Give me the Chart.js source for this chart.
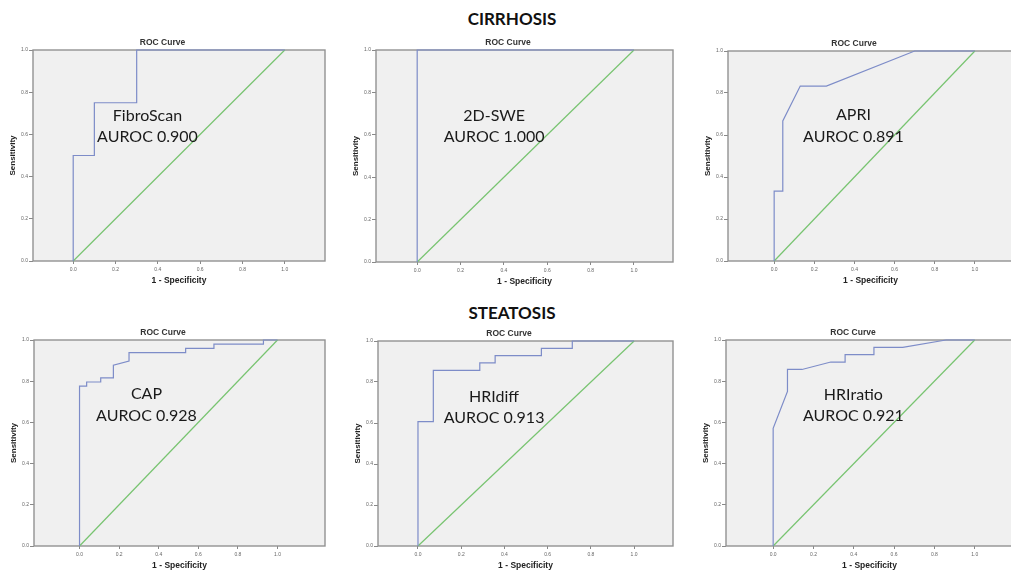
<!DOCTYPE html>
<html>
<head>
<meta charset="utf-8">
<script src="https://cdn.jsdelivr.net/npm/chart.js@4"></script>
<style>
  html, body { margin: 0; padding: 0; background: #fff; overflow: hidden; }
  body { position: relative; width: 1011px; height: 570px; }
  .head { position: absolute; left: 0; width: 1024px; text-align: center;
          font: bold 17px Lato, sans-serif; line-height: 17px; color: #111; }
  canvas { position: absolute; }
</style>
</head>
<body>
<div class="head" style="top:10px">CIRRHOSIS</div>
<div class="head" style="top:304px">STEATOSIS</div>

<script>
// tick values shared by both axes
const tickVals = [0, 0.2, 0.4, 0.6, 0.8, 1.0];

// reference (chance) line
const chanceX = [0, 1];
const chanceY = [0, 1];

// ROC curves: 1 - specificity / sensitivity
const fibroFpr = [0, 0, 0.1, 0.1, 0.3, 0.3, 1];
const fibroTpr = [0, 0.5, 0.5, 0.75, 0.75, 1, 1];

const sweFpr = [0, 0, 1];
const sweTpr = [0, 1, 1];

const apriFpr = [0, 0, 0.043, 0.043, 0.13, 0.26, 0.7, 1];
const apriTpr = [0, 0.333, 0.333, 0.667, 0.833, 0.833, 1, 1];

const capFpr = [0, 0, 0.036, 0.036, 0.107, 0.107, 0.171, 0.171, 0.25, 0.25, 0.536, 0.536, 0.679, 0.679, 0.929, 0.929, 1];
const capTpr = [0, 0.776, 0.776, 0.796, 0.796, 0.816, 0.816, 0.878, 0.898, 0.939, 0.939, 0.959, 0.959, 0.98, 0.98, 1, 1];

const diffFpr = [0, 0, 0.071, 0.071, 0.286, 0.286, 0.357, 0.357, 0.571, 0.571, 0.714, 0.714, 1];
const diffTpr = [0, 0.607, 0.607, 0.857, 0.857, 0.893, 0.893, 0.929, 0.929, 0.964, 0.964, 1, 1];

const ratioFpr = [0, 0, 0.071, 0.071, 0.143, 0.286, 0.357, 0.357, 0.5, 0.5, 0.643, 0.857, 1];
const ratioTpr = [0, 0.571, 0.75, 0.857, 0.857, 0.893, 0.893, 0.929, 0.929, 0.964, 0.964, 1, 1];

const names = ['FibroScan', '2D-SWE', 'APRI', 'CAP', 'HRIdiff', 'HRIratio'];
const auroc = ['0.900', '1.000', '0.891', '0.928', '0.913', '0.921'];

// layout of each panel: canvas box [left, top, width, height], x range, right pad, label spot
const panels = [
  { fpr: fibroFpr, tpr: fibroTpr, box: [0, 38, 330, 250],   xr: [-0.19, 1.19], right: 5,  lab: [0.351, 0.694] },
  { fpr: sweFpr,   tpr: sweTpr,   box: [343, 38, 338, 251], xr: [-0.19, 1.18], right: 8,  lab: [0.355, 0.696] },
  { fpr: apriFpr,  tpr: apriTpr,  box: [695, 39, 330, 249], xr: [-0.23, 1.19], right: 12, lab: [0.395, 0.700] },
  { fpr: capFpr,   tpr: capTpr,   box: [1, 328, 328, 245],  xr: [-0.23, 1.24], right: 4,  lab: [0.338, 0.743] },
  { fpr: diffFpr,  tpr: diffTpr,  box: [345, 329, 334, 244], xr: [-0.185, 1.18], right: 6, lab: [0.352, 0.734] },
  { fpr: ratioFpr, tpr: ratioTpr, box: [693, 328, 332, 245], xr: [-0.234, 1.19], right: 12, lab: [0.398, 0.739] }
];

const zip = (xs, ys) => xs.map((x, i) => ({ x: x, y: ys[i] }));

const frame = {
  id: 'frame',
  beforeDatasetsDraw(chart) {
    const { ctx, chartArea: a } = chart;
    ctx.save();
    ctx.fillStyle = '#f0f0f0';
    ctx.fillRect(a.left, a.top, a.width, a.height);
    ctx.strokeStyle = '#929292';
    ctx.lineWidth = 1.4;
    ctx.strokeRect(a.left, a.top, a.width, a.height);
    ctx.restore();
  }
};

const note = {
  id: 'note',
  afterDatasetsDraw(chart, args, opts) {
    const { ctx, scales } = chart;
    const px = scales.x.getPixelForValue(opts.at[0]);
    const py = scales.y.getPixelForValue(opts.at[1]) + 1;
    ctx.save();
    ctx.font = '16px Lato, sans-serif';
    ctx.fillStyle = '#1a1a1a';
    ctx.textAlign = 'center';
    ctx.textBaseline = 'middle';
    ctx.fillText(opts.lines[0], px, py);
    ctx.fillText(opts.lines[1], px, py + 21.5);
    ctx.restore();
  }
};

const tickFont = { size: 5, family: '"Liberation Sans", Arial, sans-serif' };
const boldFont = { size: 8.5, weight: 'bold', family: '"Liberation Sans", Arial, sans-serif', lineHeight: 1.2 };

panels.forEach((p, i) => {
  const c = document.createElement('canvas');
  const [l, t, w, h] = p.box;
  c.width = w; c.height = h;
  c.style.left = l + 'px'; c.style.top = t + 'px';
  c.style.width = w + 'px'; c.style.height = h + 'px';
  document.body.appendChild(c);

  new Chart(c, {
    type: 'scatter',
    data: {
      datasets: [
        { data: zip(p.fpr, p.tpr), showLine: true, borderColor: '#7d8cc8', borderWidth: 1.2,
          pointRadius: 0, tension: 0, clip: 3 },
        { data: zip(chanceX, chanceY), showLine: true, borderColor: '#78c470', borderWidth: 1.2,
          pointRadius: 0, tension: 0, clip: 3 }
      ]
    },
    options: {
      responsive: false,
      animation: false,
      events: [],
      layout: { padding: { left: 0, top: 0, bottom: 0, right: p.right } },
      plugins: {
        legend: { display: false },
        tooltip: { enabled: false },
        title: { display: true, text: 'ROC Curve', color: '#333', font: boldFont,
                 padding: { top: 0, bottom: 1.8 } },
        note: { at: p.lab, lines: [names[i], 'AUROC ' + auroc[i]] }
      },
      scales: {
        x: {
          type: 'linear', min: p.xr[0], max: p.xr[1],
          afterFit: s => { s.height = 27; },
          afterBuildTicks: s => { s.ticks = tickVals.map(v => ({ value: v })); },
          ticks: { font: tickFont, color: '#666', padding: 3, maxRotation: 0, autoSkip: false,
                   callback: v => v.toFixed(1) },
          grid: { display: true, drawOnChartArea: false, drawTicks: true, tickLength: 3, color: '#888' },
          border: { display: false },
          title: { display: true, text: '1 - Specificity', color: '#222', font: boldFont,
                   padding: { top: 0, bottom: 2 } }
        },
        y: {
          type: 'linear', min: 0, max: 1,
          afterFit: s => { s.width = 33; },
          afterBuildTicks: s => { s.ticks = tickVals.map(v => ({ value: v })); },
          ticks: { font: tickFont, color: '#666', padding: 1, autoSkip: false,
                   callback: v => v.toFixed(1) },
          grid: { display: true, drawOnChartArea: false, drawTicks: true, tickLength: 4, color: '#888' },
          border: { display: false },
          title: { display: true, text: 'Sensitivity', color: '#222',
                   font: { size: 8, weight: 'bold', family: '"Liberation Sans", Arial, sans-serif', lineHeight: 1.2 },
                   padding: { top: 8, bottom: 0 } }
        }
      }
    },
    plugins: [frame, note]
  });
});
</script>
</body>
</html>
